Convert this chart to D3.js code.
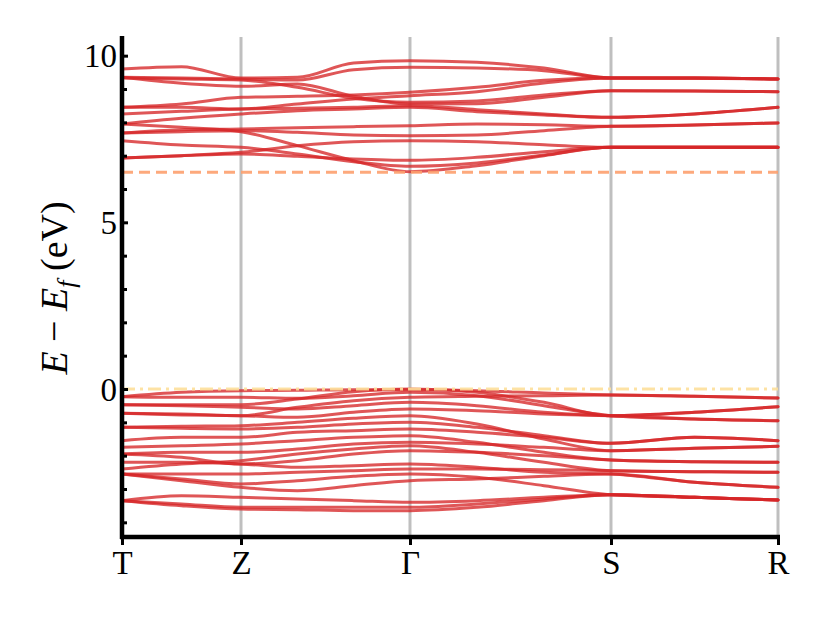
<!DOCTYPE html>
<html>
<head>
<meta charset="utf-8">
<script src="https://cdn.jsdelivr.net/npm/d3@7"></script>
<style>
  html, body { margin: 0; padding: 0; background: #fff; }
  svg { display: block; }
  text { font-family: "Liberation Serif", "DejaVu Serif", serif; fill: #000; }
</style>
</head>
<body>
<svg id="chart" width="830" height="623"></svg>
<script>
// High-symmetry path
const kLabels = ["T", "Z", "Γ", "S", "R"];
const kTicks = [0, 0.1814, 0.4390, 0.7454, 1.0];
// sampling nodes along the path (T, T-Z, Z, Z-Γ, Z-Γ, Γ, Γ-S, Γ-S, S, S-R, R)
const kNodes = [0, 0.0907, 0.1814, 0.2673, 0.3531, 0.4390, 0.5411, 0.6433, 0.7454, 0.8727, 1.0];

const yTicksMajor = [0, 5, 10];
const yTicksMinor = [-4, -3, -2, -1, 1, 2, 3, 4, 6, 7, 8, 9];

const cbm = 6.5;   // conduction band minimum
const vbm = 0.0;   // valence band maximum

// Conduction bands (eV) at kNodes
const conductionBands = [
  [9.60, 9.67, 9.33, 9.35, 9.78, 9.85, 9.80, 9.63, 9.33, 9.33, 9.30],
  [9.35, 9.33, 9.30, 9.27, 9.58, 9.65, 9.63, 9.55, 9.33, 9.32, 9.30],
  [9.35, 9.17, 9.08, 9.15, 8.78, 8.55, 8.56, 8.75, 8.95, 8.94, 8.92],
  [9.33, 9.30, 9.27, 9.05, 8.72, 8.60, 8.64, 8.82, 8.95, 8.94, 8.92],
  [8.45, 8.55, 8.75, 8.78, 8.82, 8.90, 9.05, 9.26, 9.33, 9.33, 9.30],
  [8.45, 8.45, 8.40, 8.55, 8.70, 8.80, 8.92, 9.18, 9.33, 9.33, 9.30],
  [8.25, 8.33, 8.40, 8.42, 8.45, 8.50, 8.38, 8.25, 8.15, 8.25, 8.45],
  [7.95, 8.12, 8.25, 8.35, 8.40, 8.45, 8.32, 8.22, 8.15, 8.25, 8.45],
  [7.68, 7.78, 7.80, 7.84, 7.87, 7.90, 7.95, 7.93, 7.88, 7.92, 7.98],
  [7.68, 7.72, 7.75, 7.70, 7.62, 7.60, 7.62, 7.75, 7.88, 7.92, 7.98],
  [6.93, 7.00, 7.10, 7.30, 7.42, 7.45, 7.42, 7.33, 7.25, 7.25, 7.25],
  [7.95, 7.85, 7.72, 7.30, 6.85, 6.52, 6.70, 7.00, 7.25, 7.25, 7.25],
  [7.45, 7.32, 7.25, 7.05, 6.82, 6.68, 6.78, 7.02, 7.25, 7.25, 7.25],
  [6.93, 7.00, 7.05, 6.98, 6.90, 6.86, 6.95, 7.12, 7.25, 7.25, 7.25]
];

// Valence bands (eV) at kNodes
const valenceBands = [
  [-0.23, -0.10, -0.05, -0.04, -0.02, -0.02, -0.05, -0.12, -0.18, -0.22, -0.27],
  [-0.47, -0.47, -0.47, -0.30, -0.08, 0.00, -0.10, -0.40, -0.80, -0.70, -0.53],
  [-0.23, -0.25, -0.25, -0.28, -0.20, -0.10, -0.20, -0.50, -0.80, -0.90, -0.95],
  [-0.73, -0.75, -0.80, -0.55, -0.35, -0.25, -0.22, -0.20, -0.18, -0.22, -0.27],
  [-0.47, -0.50, -0.55, -0.60, -0.50, -0.40, -0.50, -0.70, -0.80, -0.70, -0.53],
  [-0.73, -0.78, -0.80, -0.85, -0.70, -0.60, -0.65, -0.75, -0.80, -0.90, -0.95],
  [-1.15, -1.12, -1.10, -1.00, -0.88, -0.80, -1.05, -1.50, -1.85, -1.78, -1.72],
  [-1.15, -1.18, -1.20, -1.15, -1.05, -1.00, -1.15, -1.40, -1.63, -1.45, -1.55],
  [-1.55, -1.45, -1.45, -1.30, -1.25, -1.20, -1.30, -1.45, -1.63, -1.45, -1.55],
  [-1.75, -1.70, -1.65, -1.55, -1.45, -1.40, -1.60, -1.90, -2.13, -2.18, -2.20],
  [-1.95, -1.90, -1.90, -1.80, -1.65, -1.60, -1.65, -1.75, -1.85, -1.78, -1.72],
  [-2.40, -2.25, -2.15, -1.95, -1.80, -1.70, -1.90, -2.20, -2.45, -2.48, -2.50],
  [-1.95, -2.05, -2.25, -2.15, -1.95, -1.85, -1.90, -2.00, -2.13, -2.18, -2.20],
  [-2.20, -2.20, -2.25, -2.35, -2.30, -2.25, -2.35, -2.50, -2.55, -2.80, -2.95],
  [-2.55, -2.55, -2.55, -2.50, -2.45, -2.40, -2.40, -2.42, -2.45, -2.48, -2.50],
  [-2.55, -2.70, -2.85, -2.75, -2.62, -2.55, -2.65, -2.90, -3.17, -3.25, -3.33],
  [-2.55, -2.75, -2.95, -3.05, -2.90, -2.75, -2.70, -2.62, -2.55, -2.80, -2.95],
  [-3.35, -3.20, -3.25, -3.30, -3.35, -3.40, -3.35, -3.25, -3.17, -3.25, -3.33],
  [-3.35, -3.45, -3.55, -3.55, -3.55, -3.55, -3.45, -3.30, -3.17, -3.25, -3.33],
  [-3.35, -3.50, -3.60, -3.62, -3.65, -3.65, -3.55, -3.35, -3.17, -3.25, -3.33]
];

const svg = d3.select("#chart");
const x = d3.scaleLinear().domain([0, 1]).range([122, 778]);
const y = d3.scaleLinear().domain([-4.44, 10.56]).range([537, 37]);

// vertical high-symmetry lines
svg.append("g").selectAll("line")
  .data(kTicks.slice(1))
  .join("line")
  .attr("x1", d => x(d)).attr("x2", d => x(d))
  .attr("y1", y(10.56)).attr("y2", y(-4.44))
  .attr("stroke", "#bfbfbf").attr("stroke-width", 3);

const line = d3.line()
  .x((d, i) => x(kNodes[i]))
  .y(d => y(d))
  .curve(d3.curveMonotoneX);

const bands = conductionBands.concat(valenceBands);
svg.append("g").selectAll("path")
  .data(bands)
  .join("path")
  .attr("d", line)
  .attr("fill", "none")
  .attr("stroke", "#d62728")
  .attr("stroke-opacity", 0.78)
  .attr("stroke-width", 3)
  .attr("stroke-linecap", "round");

// band edges
svg.append("line")
  .attr("x1", x(0)).attr("x2", x(1))
  .attr("y1", y(cbm)).attr("y2", y(cbm))
  .attr("stroke", "#fda06e").attr("stroke-opacity", 0.9)
  .attr("stroke-width", 3).attr("stroke-dasharray", "11,6");
svg.append("line")
  .attr("x1", x(0)).attr("x2", x(1))
  .attr("y1", y(vbm)).attr("y2", y(vbm))
  .attr("stroke", "#fddf9a").attr("stroke-opacity", 0.9)
  .attr("stroke-width", 3).attr("stroke-dasharray", "13,5,3,5");

// axes
const yAxisMajor = d3.axisRight(y).tickValues(yTicksMajor).tickSize(6).tickFormat("");
const yAxisMinor = d3.axisRight(y).tickValues(yTicksMinor).tickSize(5).tickFormat("");
const gy1 = svg.append("g").attr("transform", `translate(${x(0)},0)`).call(yAxisMajor);
const gy2 = svg.append("g").attr("transform", `translate(${x(0)},0)`).call(yAxisMinor);
[gy1, gy2].forEach(g => {
  g.select(".domain").remove();
  g.selectAll(".tick line").attr("stroke", "#000").attr("stroke-width", 3);
});
svg.append("g").selectAll("text")
  .data(yTicksMajor)
  .join("text")
  .attr("x", 117)
  .attr("y", d => y(d))
  .attr("dy", "0.35em")
  .attr("text-anchor", "end")
  .attr("font-size", 33)
  .text(d => d);

const xAxis = d3.axisBottom(x).tickValues(kTicks).tickSize(8).tickFormat((d, i) => kLabels[i]);
const gx = svg.append("g").attr("transform", `translate(0,${y(-4.44)})`).call(xAxis);
gx.select(".domain").remove();
gx.selectAll(".tick line").attr("stroke", "#000").attr("stroke-width", 3);
gx.selectAll(".tick text")
  .attr("font-size", 33)
  .attr("font-family", "Liberation Serif, DejaVu Serif, serif")
  .attr("fill", "#000")
  .attr("y", 14)
  .attr("dy", "0.71em");

// spines
svg.append("line")
  .attr("x1", x(0)).attr("x2", x(0))
  .attr("y1", y(10.56) - 1).attr("y2", y(-4.44) + 2)
  .attr("stroke", "#000").attr("stroke-width", 4.5);
svg.append("line")
  .attr("x1", x(0) - 2).attr("x2", x(1) + 2)
  .attr("y1", y(-4.44)).attr("y2", y(-4.44))
  .attr("stroke", "#000").attr("stroke-width", 4.5);

// y label
const lab = svg.append("text")
  .attr("transform", `translate(67,288) rotate(-90)`)
  .attr("text-anchor", "middle")
  .attr("font-size", 38);
lab.append("tspan").attr("font-style", "italic").text("E");
lab.append("tspan").text(" − ");
lab.append("tspan").attr("font-style", "italic").text("E");
lab.append("tspan").attr("font-style", "italic").attr("font-size", 26).attr("dy", 8).text("f");
lab.append("tspan").attr("dy", -8).text(" (eV)");
</script>
</body>
</html>
